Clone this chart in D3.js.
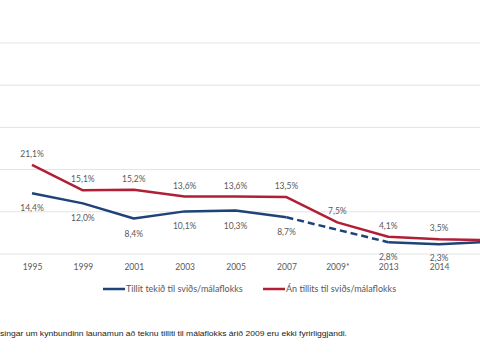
<!DOCTYPE html>
<html><head><meta charset="utf-8">
<script src="https://cdn.jsdelivr.net/npm/d3@7"></script>
<style>body{margin:0;background:#fff}svg{display:block}</style>
</head><body>
<svg id="c" width="480" height="360"></svg>
<script>
const categories = ["1995","1999","2001","2003","2005","2007","2009*","2013","2014","2015"];
const withCategory = [14.4, 12.0, 8.4, 10.1, 10.3, 8.7, null, 2.8, 2.3, 2.9];
const withoutCategory = [21.1, 15.1, 15.2, 13.6, 13.6, 13.5, 7.5, 4.1, 3.5, 3.3];
const yTicks = [0, 10, 20, 30, 40, 50];
const seriesNames = ["Tillit tekið til sviðs/málaflokks", "Án tillits til sviðs/málaflokks"];
const footnote = "singar um kynbundinn launamun  að teknu tilliti til málaflokks árið 2009 eru ekki fyrirliggjandi.";

const blue = "#1f4378", red = "#b01f35", txt = "#595959";
const svg = d3.select("#c");
const x = d3.scalePoint().domain(categories).range([32, 490]);
const y = d3.scaleLinear().domain([0, 50]).range([254, 43]);
const fmt = v => d3.format(".1f")(v).replace(".", ",") + "%";
const visible = c => x(c) < 470;

// gridlines
svg.append("g").selectAll("line").data(yTicks).join("line")
  .attr("x1", 0).attr("x2", 480)
  .attr("y1", d => y(d)).attr("y2", d => y(d))
  .attr("stroke", "#e3e3e3").attr("stroke-width", 1);

// x axis labels
const xAxis = d3.axisBottom(x).tickSize(0).tickPadding(0).tickValues(categories.filter(visible));
const gx = svg.append("g").attr("transform", "translate(0,264)").call(xAxis);
gx.select(".domain").remove();
gx.selectAll("text").attr("font-family", "Lato, 'Open Sans', sans-serif").attr("font-size", 8.5).attr("fill", txt)
  .attr("dy", "0.71em");

const line = d3.line().x(d => x(d.c)).y(d => y(d.v));
const redPts = categories.map((c, i) => ({c, v: withoutCategory[i]}));
const bluePts = categories.map((c, i) => ({c, v: withCategory[i]}));

// red line
svg.append("path").attr("d", line(redPts)).attr("fill", "none")
  .attr("stroke", red).attr("stroke-width", 2.5).attr("stroke-linejoin", "round");

// blue line: solid segments and dashed bridge over missing value
const solid = d3.line().defined(d => d.v !== null).x(d => x(d.c)).y(d => y(d.v));
svg.append("path").attr("d", solid(bluePts)).attr("fill", "none")
  .attr("stroke", blue).attr("stroke-width", 2.5).attr("stroke-linejoin", "round");
const gapIdx = bluePts.findIndex(d => d.v === null);
const bridge = [bluePts[gapIdx - 1], bluePts[gapIdx + 1]];
svg.append("path").attr("d", line(bridge)).attr("fill", "none")
  .attr("stroke", blue).attr("stroke-width", 2.5).attr("stroke-dasharray", "7,4");

// data labels
const lab = svg.append("g").attr("font-family", "Lato, 'Open Sans', sans-serif").attr("font-size", 8.5)
  .attr("fill", txt).attr("text-anchor", "middle");
lab.selectAll("text.r").data(redPts.filter(d => visible(d.c))).join("text").attr("class", "r")
  .attr("x", d => x(d.c)).attr("y", d => y(d.v) - 8).text(d => fmt(d.v));
lab.selectAll("text.b").data(bluePts.filter(d => d.v !== null && visible(d.c))).join("text").attr("class", "b")
  .attr("x", d => x(d.c)).attr("y", d => Math.min(y(d.v) + 18, 261)).text(d => fmt(d.v));

// legend
const lg = svg.append("g").attr("font-family", "Lato, 'Open Sans', sans-serif").attr("font-size", 9).attr("fill", txt);
const legendX = [103, 263];
[blue, red].forEach((col, i) => {
  lg.append("line").attr("x1", legendX[i]).attr("x2", legendX[i] + 22).attr("y1", 289).attr("y2", 289)
    .attr("stroke", col).attr("stroke-width", 2.5);
  lg.append("text").attr("x", legendX[i] + 23).attr("y", 292).text(seriesNames[i]);
});

// footnote
svg.append("text").attr("x", 0).attr("y", 336).attr("font-family", "'Liberation Sans', Arial, sans-serif")
  .attr("font-size", 8).attr("fill", "#222").attr("textLength", 347).attr("lengthAdjust", "spacingAndGlyphs")
  .text(footnote);
</script>
</body></html>
